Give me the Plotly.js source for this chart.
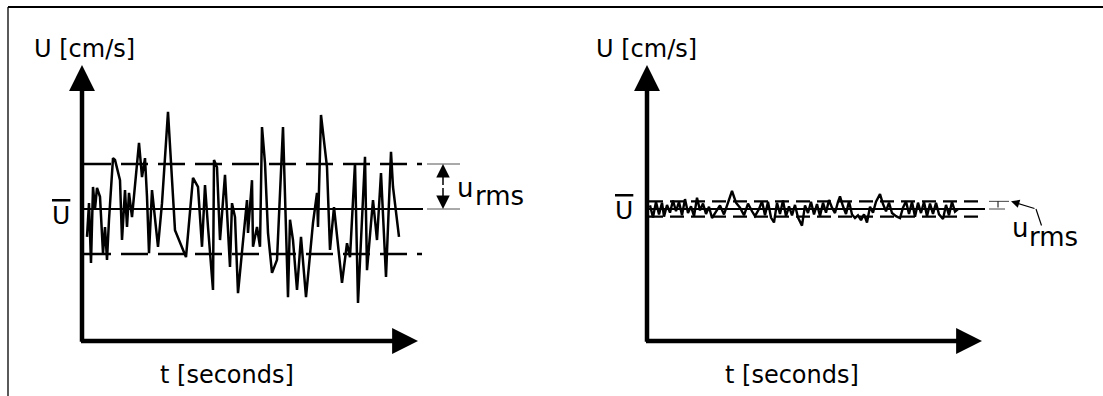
<!DOCTYPE html>
<html>
<head>
<meta charset="utf-8">
<script src="https://cdn.plot.ly/plotly-3.0.1.min.js"></script>
<style>html,body{margin:0;padding:0;background:#fff;}#chart{width:1103px;height:396px;}</style>
</head>
<body>
<div id="chart"></div>
<script>
// ---------- DATA ----------
// Left panel: strongly fluctuating velocity u' (units of left u_rms), time in s
const tLeft = [0.5,0.7,0.9,1.1,1.3,1.5,1.8,2.1,2.3,2.5,2.7,3.1,3.3,3.8,4.0,4.3,4.5,4.7,5.0,5.2,
  5.7,6.0,6.3,6.5,6.7,7.0,7.6,8.0,8.6,9.3,10.4,11.1,11.6,12.0,12.3,12.6,13.1,13.2,13.5,13.8,
  14.3,14.8,15.0,15.3,15.6,16.5,16.6,17.0,17.1,17.5,17.8,18.0,18.3,18.6,19.0,19.5,20.1,20.6,20.8,21.1,
  21.5,21.9,22.4,23.1,23.5,23.6,23.9,24.5,24.8,25.2,26.0,26.5,26.8,27.3,27.6,28.3,28.5,29.1,29.5,29.9,
  30.4,30.9,31.1,31.7];
const uLeft = [-0.62,0.13,-1.2,0.49,0,0.47,0.27,-0.98,-0.4,-1.13,-0.24,1.13,1.09,0.64,-0.69,0.42,-0.4,0.36,-0.18,0.27,
  1.47,0.71,1.13,0.27,-0.98,0.42,-0.84,0.13,2.16,-0.47,-1.07,0.69,0.49,-0.84,0.53,-0.4,-1.8,1.09,0.93,-0.69,
  0.76,-1.29,0.13,-0.18,-1.87,0.2,-0.53,0.64,-0.84,-0.4,-0.84,1.82,1.02,-0.53,-1.42,-1.13,1.82,-1.96,-0.24,-0.69,
  -1.8,-0.62,-1.96,-0.31,0.36,-0.4,2.09,0.93,-0.91,0.04,-1.64,-0.76,-1.07,1.02,-2.09,1.16,-1.36,0.2,-0.69,0.8,
  -1.51,1.27,0.49,-0.62];
// Right panel: weakly fluctuating velocity u' (same units)
const tRight = [0.3,0.6,0.9,1.2,1.5,1.7,2.0, 2.3,2.6,2.9,3.2,3.5,3.8,4.1, 4.4,4.7,5.0,5.3,5.6,5.9,6.2,
  6.5,6.9,7.3,7.7,8.1,8.5,8.9, 9.3,9.7,10.1,10.5,10.8,11.2,11.5, 11.8,12.1,12.4,12.7,13.0,13.3,13.6,
  13.9,14.2,14.5,14.8,15.1,15.5,15.8, 16.1,16.4,16.7,17.0,17.3,17.6,17.9, 18.2,18.5,18.8,19.1,19.3,19.6,19.9,
  20.2,20.5,20.8,21.1,21.4,21.7,22.0, 22.3,22.6,22.9,23.3,23.6,23.9,24.2, 24.5,24.9,25.3,25.6,25.9,26.2,26.5,
  26.8,27.1,27.4,27.7,28.0,28.3,28.6, 28.9,29.2,29.6,29.9,30.2,30.5,30.8, 31.1];
const uRight = [0.08,-0.19,0.16,-0.12,0.14,-0.17,0.09, -0.08,0.19,-0.05,0.16,-0.14,0.22,-0.09,
  0.06,-0.16,0.25,-0.03,0.12,-0.11,0.05, -0.2,-0.06,0.08,-0.12,0.16,0.4,0.14,
  0.03,-0.14,0.12,-0.05,-0.16,0,0.17, -0.14,0.16,-0.19,-0.3,0.14,-0.11,0.19,
  -0.16,0.06,-0.14,0.09,-0.19,-0.37,0.08, -0.09,0.16,-0.12,0.11,-0.16,0.14,-0.08,
  0.2,0.03,-0.09,0.16,0.28,0.06,-0.11, 0.17,-0.12,-0.2,-0.14,-0.25,-0.12,-0.3,
  0.05,-0.08,0.16,0.33,0.11,-0.05,0.14, -0.09,-0.16,-0.2,0.03,0.17,-0.11,0.16,
  -0.17,0.14,-0.09,0.16,-0.16,0.12,-0.11, 0.14,-0.12,-0.22,0.09,-0.14,0.16,-0.06, 0];
const uBar = 0;          // mean velocity level
const rmsLeft = 1.0;     // u_rms, left panel
const rmsRight = 0.17;   // u_rms, right panel
const leftSpan = [0.2, 34.1];   // extent of mean / rms reference lines (s)
const rightSpan = [0.2, 33.8];
const yLabel = 'U [cm/s]';
const xLabel = 't [seconds]';

// ---------- LAYOUT HELPERS ----------
const W = 1103, H = 396;
const px = x => x / W, py = y => 1 - y / H;
const yRange = [-2.9333, 3.2];
const FONT = 'DejaVu Sans, Liberation Sans, Arial, sans-serif';

function line(x, y, ax, opt) {
  return Object.assign({x: x, y: y, xaxis: ax[0], yaxis: ax[1], mode: 'lines', hoverinfo: 'skip',
    line: {color: '#000', width: 2}}, opt || {});
}
const L = ['x', 'y'], R = ['x2', 'y2'];

const traces = [
  line([leftSpan[0], leftSpan[1] - 0.1], [rmsLeft, rmsLeft], L, {line: {color: '#000', width: 2.6, dash: '27px,10px'}}),
  line([leftSpan[0], leftSpan[1] - 0.1], [-rmsLeft, -rmsLeft], L, {line: {color: '#000', width: 2.6, dash: '27px,10px'}}),
  line(leftSpan, [uBar, uBar], L, {line: {color: '#000', width: 1.9}}),
  line(tLeft, uLeft, L, {line: {color: '#000', width: 2.5}}),
  line([leftSpan[1] + 0.4, leftSpan[1] + 3.7, null, leftSpan[1] + 0.4, leftSpan[1] + 3.7],
       [rmsLeft, rmsLeft, null, uBar, uBar], L, {line: {color: '#555', width: 1}}),

  line([rightSpan[0], rightSpan[1]], [rmsRight, rmsRight], R, {line: {color: '#000', width: 2.4, dash: '14px,7px'}}),
  line([rightSpan[0], rightSpan[1]], [-rmsRight, -rmsRight], R, {line: {color: '#000', width: 2.4, dash: '14px,7px'}}),
  line(rightSpan, [uBar, uBar], R, {line: {color: '#000', width: 1.9}}),
  line(tRight, uRight, R, {line: {color: '#000', width: 2.4}}),
  line([rightSpan[1] + 0.4, rightSpan[1] + 2.4, null, rightSpan[1] + 0.4, rightSpan[1] + 2.0],
       [rmsRight, rmsRight, null, uBar, uBar], R, {line: {color: '#444', width: 1}})
];

function axisArrow(xr, yr, x, y, ax, ay) {
  return {xref: xr, yref: yr, axref: xr, ayref: yr, x: x, y: y, ax: ax, ay: ay, text: '',
    showarrow: true, arrowhead: 2, arrowwidth: 4.5, arrowsize: 1.15, arrowcolor: '#000', standoff: 0};
}
function txt(text, x, y, size, xanchor) {
  return {xref: 'paper', yref: 'paper', x: px(x), y: py(y), text: text, showarrow: false,
    xanchor: xanchor || 'center', yanchor: 'middle', font: {family: FONT, size: size, color: '#000'}};
}
const ubarTxt = "<span style='text-decoration:overline'>U</span>";

const annotations = [
  // axes with arrow heads
  axisArrow('x', 'y', 0, yRange[1], 0, yRange[0] - 0.05),
  axisArrow('x', 'y', 33.6, yRange[0], -0.25, yRange[0]),
  axisArrow('x2', 'y2', 0, yRange[1], 0, yRange[0] - 0.05),
  axisArrow('x2', 'y2', 33.5, yRange[0], -0.25, yRange[0]),
  // u_rms double arrow (left)
  {xref: 'x', yref: 'y', axref: 'x', ayref: 'y', x: 36.1, y: rmsLeft, ax: 36.1, ay: rmsLeft / 2, text: '',
   showarrow: true, arrowhead: 2, arrowwidth: 1.5, arrowsize: 1.8, arrowcolor: '#000', standoff: 0},
  {xref: 'x', yref: 'y', axref: 'x', ayref: 'y', x: 36.1, y: uBar, ax: 36.1, ay: rmsLeft / 2, text: '',
   showarrow: true, arrowhead: 2, arrowwidth: 1.5, arrowsize: 1.8, arrowcolor: '#000', standoff: 0},
  // tiny rms marker (right)
  {xref: 'x2', yref: 'y2', axref: 'x2', ayref: 'y2', x: 35.1, y: rmsRight, ax: 35.1, ay: uBar, text: '',
   showarrow: true, arrowhead: 0, arrowwidth: 1, arrowcolor: '#000', standoff: 0},
  // leader to u_rms label (right)
  {xref: 'x2', yref: 'y2', axref: 'x2', ayref: 'y2', x: 38.9, y: 0.0, ax: 39.5, ay: -0.4, text: '',
   showarrow: true, arrowhead: 0, arrowwidth: 1.2, arrowcolor: '#000', standoff: 0},
  {xref: 'x2', yref: 'y2', axref: 'x2', ayref: 'y2', x: 36.4, y: rmsRight, ax: 38.9, ay: 0.0, text: '',
   showarrow: true, arrowhead: 2, arrowwidth: 1.2, arrowsize: 1.4, arrowcolor: '#000', standoff: 0},
  // labels
  txt(yLabel, 84, 49, 24),
  txt(yLabel, 646, 49, 24),
  txt(xLabel, 227, 375, 24),
  txt(xLabel, 792, 375, 24),
  txt(ubarTxt, 61, 215, 25),
  txt(ubarTxt, 624, 210, 25),
  txt('u', 465, 188, 26),
  txt('rms', 499, 196, 26),
  txt('u', 1020, 228, 26),
  txt('rms', 1053, 237, 26)
];

const shapes = [
  {type: 'line', xref: 'paper', yref: 'paper', x0: px(8), x1: 1, y0: py(7), y1: py(7), line: {color: '#000', width: 2.2}},
  {type: 'line', xref: 'paper', yref: 'paper', x0: px(8), x1: px(8), y0: py(7), y1: 0, line: {color: '#000', width: 1.3}}
];

const layout = {
  width: W, height: H, margin: {l: 0, r: 0, t: 0, b: 0},
  paper_bgcolor: '#fff', plot_bgcolor: 'rgba(0,0,0,0)', showlegend: false,
  xaxis: {domain: [px(82), px(560)], range: [0, 47.8], visible: false, fixedrange: true},
  yaxis: {domain: [55 / H, 331 / H], range: yRange, visible: false, fixedrange: true},
  xaxis2: {domain: [px(647), px(1100)], range: [0, 45.3], visible: false, anchor: 'y2', fixedrange: true},
  yaxis2: {domain: [55 / H, 331 / H], range: yRange, visible: false, anchor: 'x2', fixedrange: true},
  annotations: annotations,
  shapes: shapes
};

Plotly.newPlot('chart', traces, layout, {displayModeBar: false, staticPlot: true});
</script>
</body>
</html>
